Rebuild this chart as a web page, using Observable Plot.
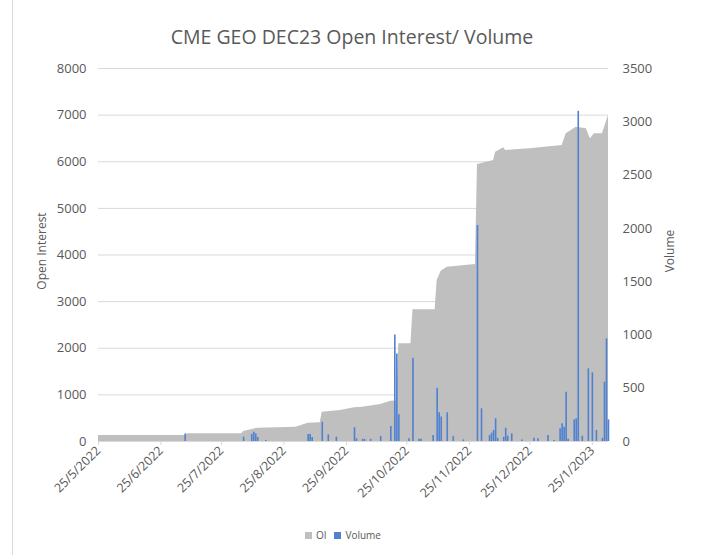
<!DOCTYPE html>
<html><head><meta charset="utf-8">
<script src="https://cdn.jsdelivr.net/npm/d3@7"></script>
<script src="https://cdn.jsdelivr.net/npm/@observablehq/plot@0.6"></script>
<style>
body{margin:0;background:#fff;font-family:"Open Sans",sans-serif;}
#wrap{position:relative;width:704px;height:555px;overflow:hidden;background:#fff;}
#title{position:absolute;left:0;width:704px;top:23px;text-align:center;font-size:19.5px;color:#595959;}
#border{position:absolute;left:12px;top:0;width:1px;height:555px;background:#d9d9d9;}
#legend{position:absolute;top:528px;left:-9px;width:704px;text-align:center;font-size:10px;color:#595959;line-height:14px;}
#legend span.sw{display:inline-block;width:7px;height:7px;margin-right:4px;vertical-align:0px;}
#chart{position:absolute;top:0;left:0;}
</style></head>
<body><div id="wrap"><div id="border"></div><div id="chart"></div>
<div id="title">CME GEO DEC23 Open Interest/ Volume</div>
<div id="legend"><span class="sw" style="background:#bfbfbf"></span>OI&nbsp;&nbsp;&nbsp;<span class="sw" style="background:#4f81d0"></span>Volume</div>
</div>
<script>
// Open interest (left axis), breakpoints
const oiDates = ["2022-05-25","2022-07-07","2022-07-08","2022-08-04","2022-08-05","2022-08-12","2022-08-31","2022-09-06","2022-09-12","2022-09-13","2022-09-22","2022-09-29","2022-10-03","2022-10-12","2022-10-17","2022-10-20","2022-10-21","2022-10-27","2022-10-28","2022-11-08","2022-11-09","2022-11-11","2022-11-14","2022-11-28","2022-11-29","2022-12-07","2022-12-08","2022-12-12","2022-12-13","2022-12-25","2023-01-10","2023-01-12","2023-01-17","2023-01-22","2023-01-24","2023-01-26","2023-01-30","2023-02-02"];
const oiValues = [130,130,165,165,215,285,307,393,400,628,665,723,736,794,865,870,2096,2096,2825,2825,3453,3650,3739,3797,5942,6027,6205,6300,6242,6280,6349,6600,6742,6707,6493,6600,6600,6993];

// Volume (right axis)
const volDates = ["2022-07-07","2022-08-05","2022-08-09","2022-08-10","2022-08-11","2022-08-12","2022-08-16","2022-09-06","2022-09-07","2022-09-08","2022-09-13","2022-09-16","2022-09-20","2022-09-29","2022-09-30","2022-10-03","2022-10-04","2022-10-07","2022-10-12","2022-10-17","2022-10-19","2022-10-20","2022-10-21","2022-10-26","2022-10-28","2022-10-31","2022-11-01","2022-11-07","2022-11-09","2022-11-10","2022-11-11","2022-11-14","2022-11-17","2022-11-22","2022-11-29","2022-12-01","2022-12-05","2022-12-06","2022-12-07","2022-12-08","2022-12-09","2022-12-12","2022-12-13","2022-12-14","2022-12-16","2022-12-21","2022-12-27","2022-12-29","2023-01-03","2023-01-06","2023-01-09","2023-01-10","2023-01-11","2023-01-12","2023-01-13","2023-01-16","2023-01-17","2023-01-18","2023-01-20","2023-01-23","2023-01-25","2023-01-27","2023-01-30","2023-01-31","2023-02-01","2023-02-02"];
const volValues = [70,40,66,87,72,38,10,66,66,38,181,63,40,130,25,20,20,20,47,141,1000,820,250,25,782,20,20,56,500,270,230,270,47,15,2027,307,56,78,103,213,30,40,125,50,72,15,30,25,56,10,119,166,134,463,20,203,213,3099,50,682,644,103,30,557,963,203];

const xTickDates = ["2022-05-25","2022-06-25","2022-07-25","2022-08-25","2022-09-25","2022-10-25","2022-11-25","2022-12-25","2023-01-25"];
const leftTicks = [0,1000,2000,3000,4000,5000,6000,7000,8000];
const rightTicks = [0,500,1000,1500,2000,2500,3000,3500];

const parse = d3.utcParse("%Y-%m-%d");
const oi = oiDates.map((d,i)=>({date: parse(d), value: oiValues[i]}));
const vol = volDates.map((d,i)=>({date: parse(d), value: volValues[i]}));
const k = leftTicks[leftTicks.length-1] / rightTicks[rightTicks.length-1];
const fmt = d => `${d.getUTCDate()}/${d.getUTCMonth()+1}/${d.getUTCFullYear()}`;

const chart = Plot.plot({
  width: 704, height: 520,
  marginTop: 68, marginBottom: 79, marginLeft: 98, marginRight: 96,
  x: {type: "utc", domain: [parse(oiDates[0]), parse(oiDates[oiDates.length-1])]},
  y: {domain: [0, 8000]},
  style: {fontFamily: "Open Sans", fontSize: "12px", color: "#595959", background: "transparent"},
  marks: [
    Plot.gridY(leftTicks, {stroke: "#d9d9d9", strokeOpacity: 1}),
    Plot.areaY(oi, {x: "date", y: "value", fill: "#bfbfbf", curve: "linear"}),
    Plot.ruleX(vol, {x: "date", y1: 0, y2: d => d.value * k, stroke: "#4f81d0", strokeWidth: 1.6}),
    Plot.ruleY([0], {stroke: "#d9d9d9"}),
    Plot.axisX(xTickDates.map(parse), {tickFormat: fmt, tickRotate: -45, tickSize: 4, tickPadding: 3, stroke: "#d9d9d9", fontSize: 12.5, label: null}),
    Plot.axisY(leftTicks, {anchor: "left", tickSize: 0, tickPadding: 12, tickFormat: d => String(d), fontSize: 13, label: null}),
    Plot.axisY(rightTicks.map(v => v * k), {anchor: "right", tickSize: 0, tickPadding: 14, tickFormat: d => String(Math.round(d / k)), fontSize: 13, label: null}),
    Plot.text(["Open Interest"], {frameAnchor: "left", textAnchor: "middle", rotate: -90, dx: -56, dy: -4, fill: "#595959", fontSize: 12}),
    Plot.text(["Volume"], {frameAnchor: "right", textAnchor: "middle", rotate: -90, dx: 62, dy: -4, fill: "#595959", fontSize: 12})
  ]
});
document.getElementById("chart").appendChild(chart);
</script>
</body></html>
